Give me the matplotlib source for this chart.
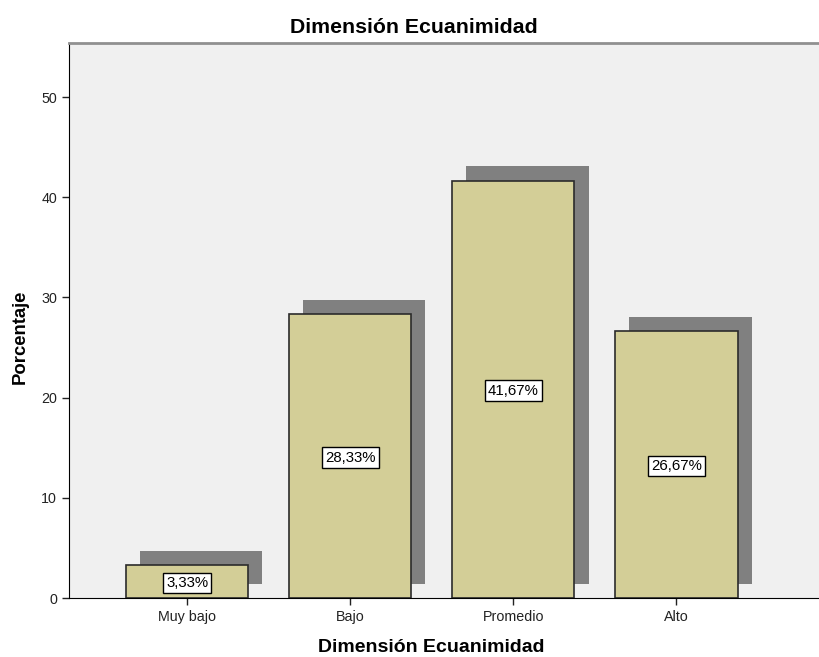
import matplotlib
matplotlib.use('Agg')
from matplotlib import pyplot as plt
from matplotlib.patches import Rectangle

plt.rcParams['font.family'] = ['Liberation Sans', 'DejaVu Sans']

categories = ['Muy bajo', 'Bajo', 'Promedio', 'Alto']
percentages = [3.33, 28.33, 41.67, 26.67]
value_labels = ['3,33%', '28,33%', '41,67%', '26,67%']

fig = plt.figure(figsize=(8.2, 6.57), dpi=100)
ax = fig.add_axes([0.0841, 0.0898, 0.9159, 0.8448])
ax.set_facecolor('#f0f0f0')

bar_width = 0.75
shadow_dx = 0.086
shadow_dy = 1.4

positions = range(len(categories))

# shadows behind bars
for x, v in zip(positions, percentages):
    ax.add_patch(Rectangle((x - bar_width / 2 + shadow_dx, shadow_dy), bar_width, v,
                           facecolor='#808080', edgecolor='none', zorder=1))

ax.bar(positions, percentages, width=bar_width, color='#d3ce97',
       edgecolor='#2b2b2b', linewidth=1.2, zorder=2)

# value labels in the middle of each bar
for x, v, lab in zip(positions, percentages, value_labels):
    ax.text(x, v / 2, lab, ha='center', va='center_baseline', fontsize=10.8, zorder=3,
            bbox=dict(boxstyle='square,pad=0.22', facecolor='white', edgecolor='black', linewidth=1))

ax.set_xlim(-0.724, 3.88)
ax.set_ylim(0, 55.4)
ax.set_xticks(list(positions))
ax.set_xticklabels(categories, fontsize=10.3)
ax.set_yticks([0, 10, 20, 30, 40, 50])
ax.tick_params(axis='both', direction='out', length=5, width=1, labelsize=10.3, colors='#222222')

ax.spines['right'].set_visible(False)
ax.spines['top'].set_color('#909090')
ax.spines['top'].set_linewidth(2)
ax.spines['left'].set_color('black')
ax.spines['bottom'].set_color('black')

ax.set_title('Dimensión Ecuanimidad', fontsize=15.3, fontweight='bold', pad=7, x=0.459)
ax.set_xlabel('Dimensión Ecuanimidad', fontsize=14, fontweight='bold', labelpad=11, x=0.482)
ax.set_ylabel('Porcentaje', fontsize=13.3, fontweight='bold', labelpad=9, y=0.47)

fig.savefig('out.png', dpi=100)
